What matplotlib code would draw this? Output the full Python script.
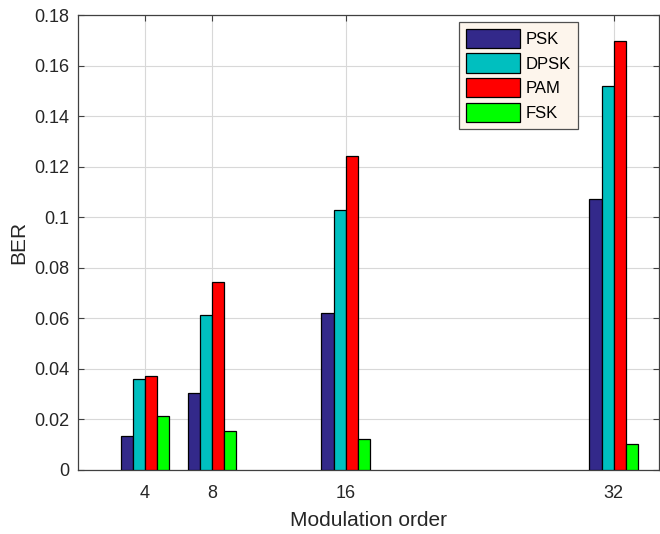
import matplotlib
matplotlib.use("Agg")
import matplotlib.pyplot as plt
import numpy as np

orders = [4, 8, 16, 32]
series_names = ["PSK", "DPSK", "PAM", "FSK"]
psk = [0.0135, 0.0304, 0.0622, 0.1072]
dpsk = [0.0360, 0.0612, 0.1027, 0.1518]
pam = [0.0371, 0.0744, 0.1244, 0.1698]
fsk = [0.0214, 0.0153, 0.0121, 0.0102]
colors = ["#33298a", "#00bfbf", "#ff0000", "#00ff00"]
yticks = [0, 0.02, 0.04, 0.06, 0.08, 0.1, 0.12, 0.14, 0.16, 0.18]
ytick_labels = ["0", "0.02", "0.04", "0.06", "0.08", "0.1", "0.12", "0.14", "0.16", "0.18"]

plt.rcParams['font.family'] = ['Liberation Sans', 'DejaVu Sans']

fig = plt.figure(figsize=(6.6, 5.34), dpi=100)
ax = fig.add_axes([0.118, 0.1199, 0.8805, 0.852])

w = 0.727
x = np.array(orders, dtype=float)
for i, (vals, name) in enumerate(zip([psk, dpsk, pam, fsk], series_names)):
    ax.bar(x + (i - 1.5) * w, vals, width=w, color=colors[i], edgecolor="black",
           linewidth=0.9, label=name, zorder=3)

ax.set_xlim(0, 34.7)
ax.set_ylim(0, 0.18)
ax.set_xticks(orders)
ax.set_xticklabels([str(o) for o in orders])
ax.set_yticks(yticks)
ax.set_yticklabels(ytick_labels)
ax.grid(True, color="#d8d8d8", linewidth=0.8, zorder=0)
ax.set_axisbelow(True)
ax.tick_params(direction="in", length=4, colors="#404040", labelcolor="#262626",
               labelsize=13, right=True, top=True)
ax.tick_params(axis="y", pad=6)
ax.tick_params(axis="x", pad=11)
for s in ax.spines.values():
    s.set_color("#404040")
    s.set_linewidth(0.9)
ax.set_xlabel("Modulation order", fontsize=15, color="#262626", labelpad=6)
ax.set_ylabel("BER", fontsize=15, color="#262626", labelpad=4)

leg = ax.legend(loc="upper right", bbox_to_anchor=(0.8606, 0.9846), fontsize=12,
                handlelength=3.25, handleheight=1.4, labelspacing=0.33,
                handletextpad=0.35, borderpad=0.4, borderaxespad=0,
                fancybox=False, framealpha=1)
leg.get_frame().set_facecolor("#fdf5ec")
leg.get_frame().set_edgecolor("#505050")
leg.get_frame().set_linewidth(0.9)

fig.savefig("out.png", dpi=100)
